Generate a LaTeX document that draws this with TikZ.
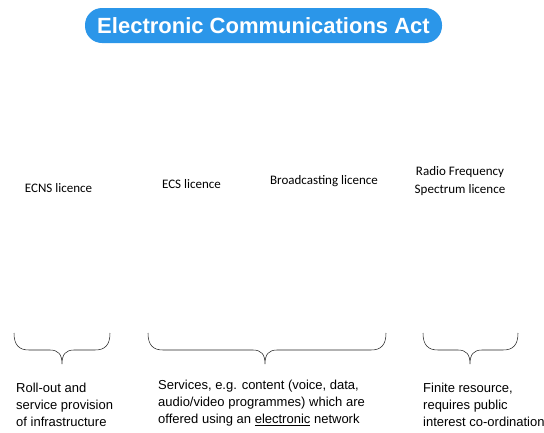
\documentclass[tikz,border=0pt]{standalone}
\usepackage{fontspec}
\setmainfont{Liberation Sans}
\newfontfamily\calfont{Carlito}
\definecolor{pillblue}{RGB}{43,150,233}
\tikzset{
  lic/.style={font=\calfont\fontsize{13}{18}\selectfont, inner sep=0pt, align=center},
  desc/.style={font=\fontsize{13}{17}\selectfont, inner sep=0pt, align=left, anchor=north west},
  bracestyle/.style={draw=black!85, line width=0.55pt},
}
\newcommand{\mybrace}[3]{% left, center, right
  \draw[bracestyle] (#1,333) .. controls (#1,345) and (#1+5,350) .. (#1+15,350)
    -- (#2-12,350) .. controls (#2-4,350) and (#2,354) .. (#2,364)
    .. controls (#2,354) and (#2+4,350) .. (#2+12,350)
    -- (#3-15,350) .. controls (#3-5,350) and (#3,345) .. (#3,333);}
\begin{document}
\begin{tikzpicture}[x=1pt,y=-1pt]
\useasboundingbox (0,0) rectangle (544,432);
\node[fill=pillblue, rounded corners=17pt, minimum width=357pt, minimum height=35pt, inner sep=0pt,
  text=white, font=\bfseries\fontsize{22}{24}\selectfont] (title) at (263.5,25.5) {Electronic Communications Act};
\node[lic] (ecns) at (58.5,188) {ECNS licence};
\node[lic] (ecs) at (191.5,184) {ECS licence};
\node[lic] (bc) at (324,181) {Broadcasting licence};
\node[lic] (rf) at (460,181.5) {Radio Frequency\\Spectrum licence};
\mybrace{14}{62}{110}
\mybrace{148}{265}{386}
\mybrace{423}{470}{518}
\node[desc] (d1) at (16,383) {Roll-out and\\service provision\\of infrastructure};
\node[desc] (d2) at (158,380) {Services, e.g. content (voice, data,\\audio/video programmes) which are\\offered using an \underline{electronic} network};
\node[desc] (d3) at (423,383) {Finite resource,\\requires public\\interest co-ordination};
\end{tikzpicture}
\end{document}
